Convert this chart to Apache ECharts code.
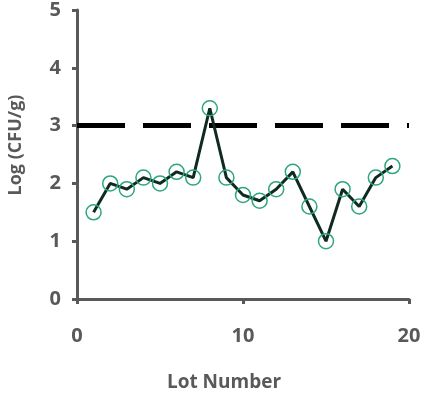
<!DOCTYPE html>
<html><head><meta charset="utf-8">
<script src="https://cdn.jsdelivr.net/npm/echarts@6/dist/echarts.min.js"></script>
<style>html,body{margin:0;padding:0;background:#fff}#c{width:427px;height:396px}</style>
</head><body><div id="c"></div>
<script>
var lots = [1,2,3,4,5,6,7,8,9,10,11,12,13,14,15,16,17,18,19];
var logCFU = [1.5,2.0,1.9,2.1,2.0,2.2,2.1,3.3,2.1,1.8,1.7,1.9,2.2,1.6,1.0,1.9,1.6,2.1,2.3];
var limitX = [0,20];
var limitY = [3,3];
var xTicks = [0,10,20];
var yTicks = [0,1,2,3,4,5];

var axisColor = '#595959';
var font = 'Open Sans';
var chart = echarts.init(document.getElementById('c'), null, {renderer:'canvas'});
chart.setOption({
  animation:false,
  grid:{left:77,right:18,top:10,bottom:97},
  xAxis:{type:'value',min:xTicks[0],max:xTicks[xTicks.length-1],interval:10,
    axisLine:{show:true,lineStyle:{color:axisColor,width:3}},
    axisTick:{show:true,length:5,lineStyle:{color:axisColor,width:3}},
    splitLine:{show:false},
    axisLabel:{color:axisColor,fontSize:20,fontWeight:'bold',fontFamily:font,margin:27}
  },
  yAxis:{type:'value',min:yTicks[0],max:yTicks[yTicks.length-1],interval:1,
    axisLine:{show:true,lineStyle:{color:axisColor,width:3}},
    axisTick:{show:true,length:5,lineStyle:{color:axisColor,width:3}},
    splitLine:{show:false},
    axisLabel:{color:axisColor,fontSize:20,fontWeight:'bold',fontFamily:font,margin:16}
  },
  graphic:[
    {type:'text',x:16,y:145,rotation:Math.PI/2,style:{text:'Log (CFU/g)',fill:axisColor,font:'bold 18px "Open Sans"',align:'center',verticalAlign:'middle'}},
    {type:'text',x:224,y:383,style:{text:'Lot Number',fill:axisColor,font:'bold 19px "Open Sans"',align:'center',verticalAlign:'middle'}}
  ],
  series:[
    {type:'line',data:limitX.map(function(x,i){return [x,limitY[i]];}),symbol:'none',
      lineStyle:{color:'#000',width:5,type:[48,18]},z:1},
    {type:'line',data:lots.map(function(x,i){return [x,logCFU[i]];}),
      symbol:'circle',symbolSize:15,
      itemStyle:{color:'rgba(0,0,0,0)',borderColor:'#2ea67c',borderWidth:1.5},
      lineStyle:{color:'#0f2a1f',width:3},z:2}
  ]
});
</script></body></html>
